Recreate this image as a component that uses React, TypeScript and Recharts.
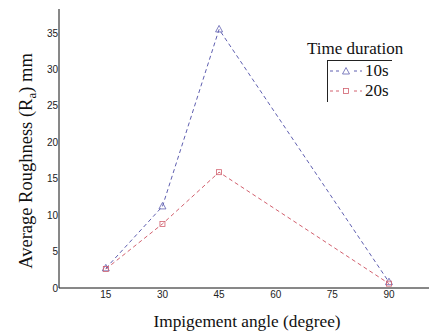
import { LineChart, Line, XAxis, YAxis, Label } from 'recharts';

const angles = [15, 30, 45, 90];
const rough10s = [2.7, 11.2, 35.5, 0.8];
const rough20s = [2.6, 8.8, 15.9, 0.6];
const xTicks = [15, 30, 45, 60, 75, 90];
const yTicks = [0, 5, 10, 15, 20, 25, 30, 35];
const seriesNames = ['10s', '20s'];

const BLUE = '#5f5fb0';
const RED = '#d2606e';
const SERIF = '"Liberation Serif", "Times New Roman", serif';
const SANS = '"Liberation Sans", Arial, sans-serif';

const data = angles.map((a, i) => ({ angle: a, s10: rough10s[i], s20: rough20s[i] }));

const Triangle = (props: any) => {
  const { cx, cy, stroke } = props;
  if (cx == null || cy == null) return null;
  return (
    <polygon
      points={`${cx},${cy - 4} ${cx - 3.5},${cy + 2.5} ${cx + 3.5},${cy + 2.5}`}
      fill="none"
      stroke={stroke}
      strokeWidth={0.8}
    />
  );
};

const Square = (props: any) => {
  const { cx, cy, stroke } = props;
  if (cx == null || cy == null) return null;
  return <rect x={cx - 2.5} y={cy - 2.5} width={5} height={5} fill="none" stroke={stroke} strokeWidth={0.8} />;
};

const YLabel = () => (
  <text
    x={0}
    y={0}
    transform="translate(32,161) rotate(-90)"
    textAnchor="middle"
    fontFamily={SERIF}
    fontSize={18.5}
    fill="#111"
  >
    Average Roughness (R
    <tspan fontSize={13} dy={4}>a</tspan>
    <tspan dy={-4}>) mm</tspan>
  </text>
);

const XLabel = () => (
  <text x={247} y={327} textAnchor="middle" fontFamily={SERIF} fontSize={17.3} fill="#111">
    Impigement angle (degree)
  </text>
);

// hand drawn legend box like the original figure
const LegendBox = () => (
  <div style={{ position: 'absolute', left: 307, top: 39, width: 110, height: 64, fontFamily: SERIF, color: '#111' }}>
    <div style={{ position: 'absolute', left: 0, top: 0, fontSize: 17, whiteSpace: 'nowrap' }}>Time duration</div>
    <div style={{ position: 'absolute', left: 20, top: 21, width: 64, height: 41, borderTop: '1px solid #222', borderLeft: '1px solid #222' }} />
    {seriesNames.map((name, i) => (
      <div key={name} style={{ position: 'absolute', left: 22, top: 24 + i * 20, display: 'flex', alignItems: 'center', height: 16 }}>
        <svg width={34} height={14}>
          <line x1={1} y1={7} x2={33} y2={7} stroke={i === 0 ? BLUE : RED} strokeDasharray="3 3" strokeWidth={1} />
          <rect x={12} y={2} width={10} height={10} fill="#fff" />
          {i === 0 ? (
            <polygon points="17,3.5 13.5,10 20.5,10" fill="none" stroke={BLUE} strokeWidth={0.8} />
          ) : (
            <rect x={14.5} y={4.5} width={5} height={5} fill="none" stroke={RED} strokeWidth={0.8} />
          )}
        </svg>
        <span style={{ fontSize: 17, marginLeft: 2 }}>{name}</span>
      </div>
    ))}
  </div>
);

export default function App() {
  return (
    <div style={{ position: 'absolute', left: 0, top: 0, width: 429, height: 333, background: '#fff' }}>
      <LineChart width={429} height={333} data={data} margin={{ top: 9, right: 0, bottom: 0, left: 0 }}>
        <XAxis
          dataKey="angle"
          type="number"
          domain={[2.6, 100.6]}
          ticks={xTicks}
          tickLine={false}
          tickSize={0}
          tickMargin={3}
          height={45}
          axisLine={{ stroke: '#111', strokeWidth: 1 }}
          tick={{ fontFamily: SANS, fontSize: 10, fill: '#222' }}
        >
          <Label content={<XLabel />} />
        </XAxis>
        <YAxis
          type="number"
          domain={[0, 38.3]}
          ticks={yTicks}
          tickLine={false}
          tickSize={0}
          tickMargin={1}
          width={59}
          axisLine={{ stroke: '#111', strokeWidth: 1 }}
          tick={{ fontFamily: SANS, fontSize: 10, fill: '#222' }}
        >
          <Label content={<YLabel />} />
        </YAxis>
        <Line
          dataKey="s10"
          name={seriesNames[0]}
          stroke={BLUE}
          strokeWidth={1}
          strokeDasharray="4 3"
          dot={<Triangle />}
          isAnimationActive={false}
        />
        <Line
          dataKey="s20"
          name={seriesNames[1]}
          stroke={RED}
          strokeWidth={1}
          strokeDasharray="4 3"
          dot={<Square />}
          isAnimationActive={false}
        />
      </LineChart>
      <LegendBox />
    </div>
  );
}
